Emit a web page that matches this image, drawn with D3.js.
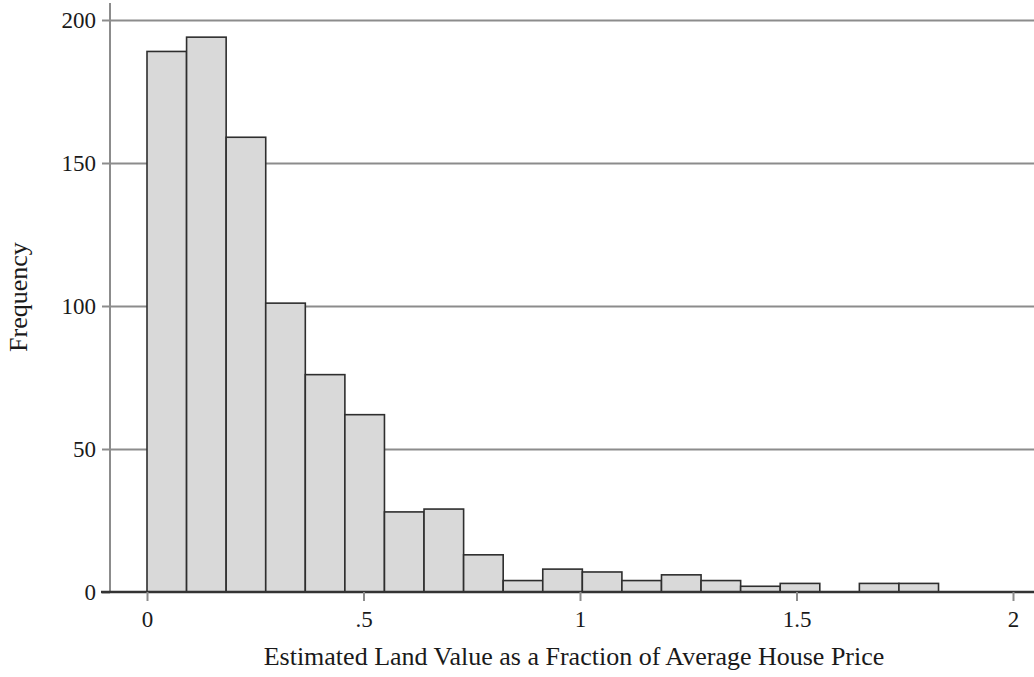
<!DOCTYPE html>
<html>
<head>
<script src="https://cdn.jsdelivr.net/npm/d3@7"></script>
<style>
  body { margin: 0; background: #fff; }
  text { font-family: "Liberation Serif", "Times New Roman", serif; fill: #1a1a1a; }
</style>
</head>
<body>
<svg width="1034" height="677"></svg>
<script>
// histogram counts
var counts = [189, 194, 159, 101, 76, 62, 28, 29, 13, 4, 8, 7, 4, 6, 4, 2, 3, 0, 3, 3];
var binStart = 0;
var binWidth = 0.0914;
var xTicks = [0, 0.5, 1, 1.5, 2];
var xTickLabels = ["0", ".5", "1", "1.5", "2"];
var yTicks = [0, 50, 100, 150, 200];
var yTickLabels = ["0", "50", "100", "150", "200"];

var width = 1034, tickFont = 23, titleFont = 26;
var svg = d3.select("svg");

var x = d3.scaleLinear().domain([0, 2]).range([147, 1013]);
var y = d3.scaleLinear().domain([0, 200]).range([592, 20]);
var axisX = 110;

// gridlines
svg.append("g")
  .attr("transform", "translate(" + axisX + ",0)")
  .call(d3.axisRight(y).tickValues(yTicks.slice(1)).tickSize(width - axisX).tickFormat(""))
  .call(function(g) {
    g.select(".domain").remove();
    g.selectAll("line").attr("stroke", "#8c8c8c").attr("stroke-width", 2);
  });

// y axis with ticks and labels
svg.append("g")
  .attr("transform", "translate(" + axisX + ",0)")
  .call(d3.axisLeft(y).tickValues(yTicks).tickSize(8).tickPadding(6)
    .tickFormat(function(d, i) { return yTickLabels[i]; }))
  .call(function(g) {
    g.select(".domain").attr("d", "M0," + (y(0) + 1) + "V3").attr("stroke", "#8c8c8c").attr("stroke-width", 2);
    g.selectAll("line").attr("stroke", "#8c8c8c").attr("stroke-width", 2);
    g.selectAll("text").attr("font-size", tickFont).attr("font-family", null).attr("fill", "#1a1a1a");
  });

// bars
var bins = counts.map(function(c, i) {
  return { x0: binStart + i * binWidth, x1: binStart + (i + 1) * binWidth, n: c };
});

svg.selectAll("rect.bar")
  .data(bins.filter(function(d) { return d.n > 0; }))
  .enter().append("rect")
  .attr("class", "bar")
  .attr("x", function(d) { return x(d.x0); })
  .attr("y", function(d) { return y(d.n); })
  .attr("width", function(d) { return x(d.x1) - x(d.x0); })
  .attr("height", function(d) { return y(0) - y(d.n); })
  .style("fill", "#d9d9d9")
  .style("stroke", "#2e2e2e")
  .style("stroke-width", 1.6);

// x axis
svg.append("g")
  .attr("transform", "translate(0," + y(0) + ")")
  .call(d3.axisBottom(x).tickValues(xTicks).tickSize(9).tickPadding(10)
    .tickFormat(function(d, i) { return xTickLabels[i]; }))
  .call(function(g) {
    g.select(".domain").attr("d", "M101,0H" + width).attr("stroke", "#333").attr("stroke-width", 2.5);
    g.selectAll("line").attr("stroke", "#8c8c8c").attr("stroke-width", 2);
    g.selectAll("text").attr("font-size", tickFont).attr("font-family", null).attr("fill", "#1a1a1a");
  });

// axis titles
svg.append("text")
  .attr("x", 574)
  .attr("y", 665)
  .attr("text-anchor", "middle")
  .attr("font-size", titleFont)
  .text("Estimated Land Value as a Fraction of Average House Price");

svg.append("text")
  .attr("transform", "translate(27,297) rotate(-90)")
  .attr("text-anchor", "middle")
  .attr("font-size", titleFont)
  .text("Frequency");
</script>
</body>
</html>
